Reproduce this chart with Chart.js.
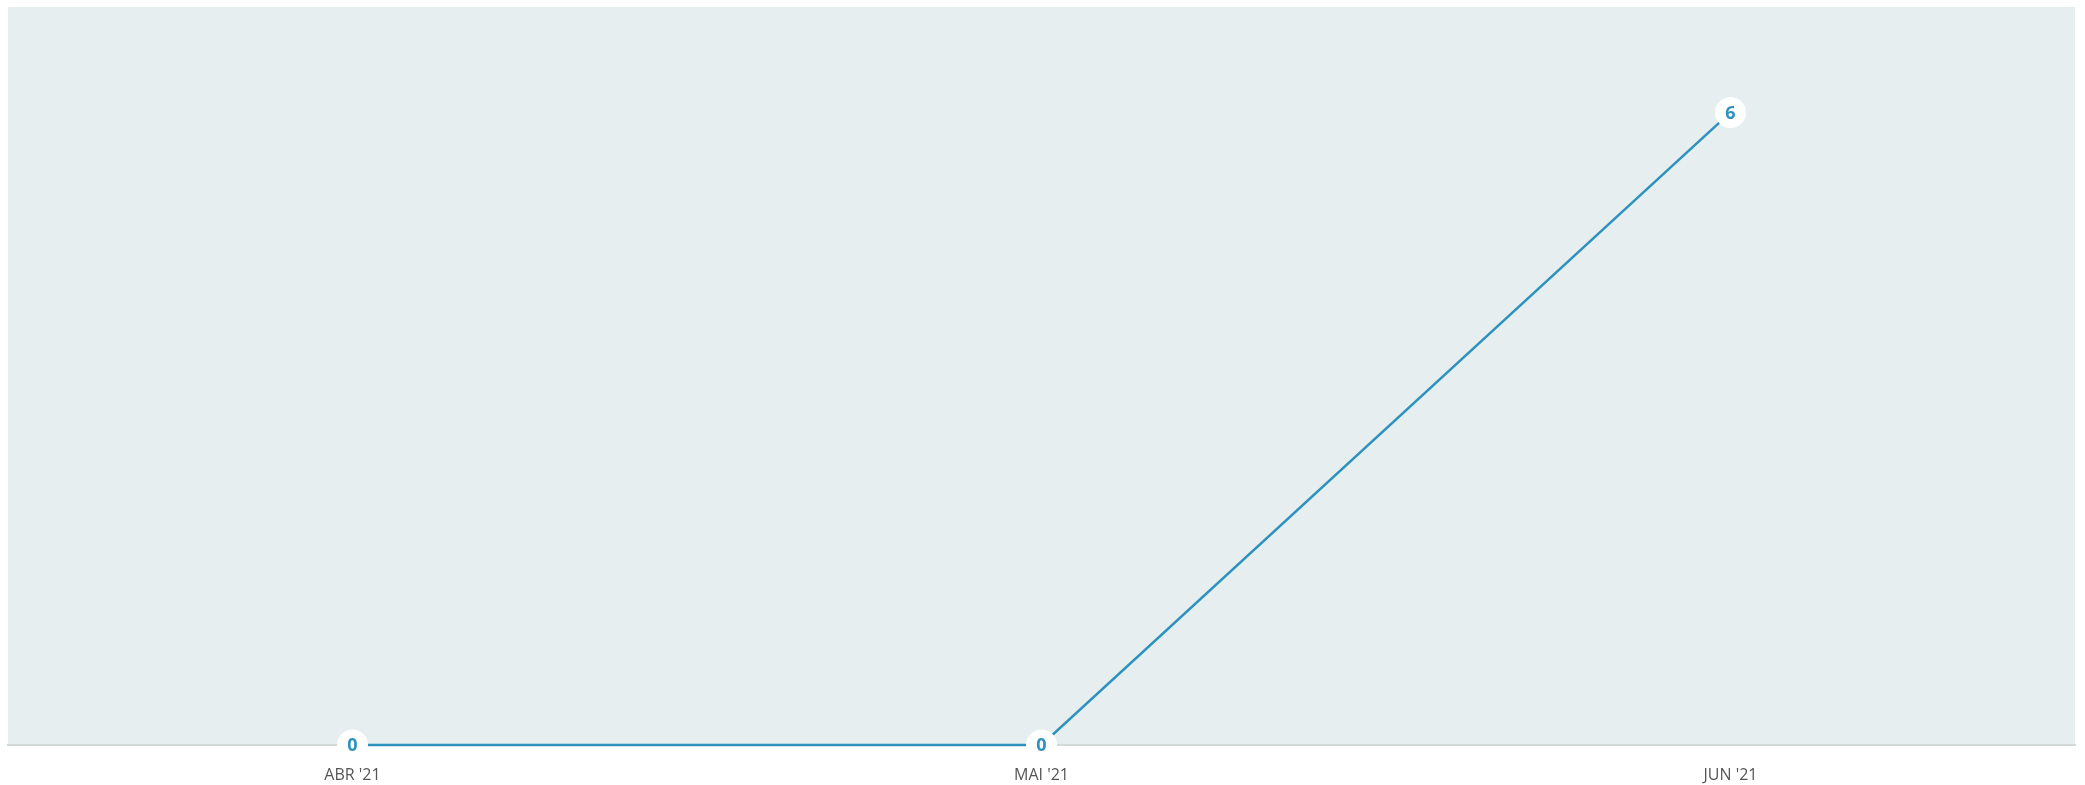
<!DOCTYPE html>
<html>
<head>
<meta charset="utf-8">
<script src="https://cdn.jsdelivr.net/npm/chart.js@4/dist/chart.umd.min.js"></script>
<style>
html,body{margin:0;padding:0;background:#fff;}
#wrap{width:2085px;height:785px;position:relative;}
</style>
</head>
<body>
<div id="wrap"><canvas id="c" width="2085" height="785"></canvas></div>
<script>
const categories = ["ABR '21", "MAI '21", "JUN '21"];
const values = [0, 0, 6];
const yMin = 0;
const yMax = 7;

const bgPlugin = {
  id: 'areaBg',
  beforeDraw(chart) {
    const {ctx, chartArea: a} = chart;
    ctx.save();
    ctx.fillStyle = '#e6eef0';
    ctx.fillRect(a.left, a.top, a.right - a.left, a.bottom - a.top);
    ctx.restore();
  }
};

const labelPlugin = {
  id: 'pointLabels',
  afterDatasetsDraw(chart) {
    const {ctx} = chart;
    const meta = chart.getDatasetMeta(0);
    ctx.save();
    ctx.font = 'bold 18px "Open Sans", sans-serif';
    ctx.fillStyle = '#2e92bf';
    ctx.textAlign = 'center';
    ctx.textBaseline = 'middle';
    meta.data.forEach((pt, i) => {
      ctx.fillText(String(chart.data.datasets[0].data[i]), pt.x, pt.y + 1);
    });
    ctx.restore();
  }
};

new Chart(document.getElementById('c'), {
  type: 'line',
  data: {
    labels: categories,
    datasets: [{
      data: values,
      borderColor: '#2e92bf',
      borderWidth: 2.5,
      pointRadius: 14,
      pointHoverRadius: 14,
      pointBackgroundColor: '#ffffff',
      pointBorderColor: '#ffffff',
      pointBorderWidth: 3,
      tension: 0,
      clip: false,
      fill: false
    }]
  },
  options: {
    responsive: false,
    animation: false,
    events: [],
    layout: { autoPadding: false, padding: { left: 8, right: 10, top: 7, bottom: 0 } },
    plugins: { legend: { display: false }, tooltip: { enabled: false } },
    scales: {
      x: {
        offset: true,
        grid: { display: false, drawTicks: false },
        border: { display: true, color: '#d3d8d9', width: 2 },
        ticks: {
          padding: 21,
          color: '#555555',
          font: { family: '"Open Sans", sans-serif', size: 16 }
        },
        afterFit(scale) { scale.height = 40; }
      },
      y: {
        display: false,
        min: yMin,
        max: yMax
      }
    }
  },
  plugins: [bgPlugin, labelPlugin]
});
</script>
</body>
</html>
